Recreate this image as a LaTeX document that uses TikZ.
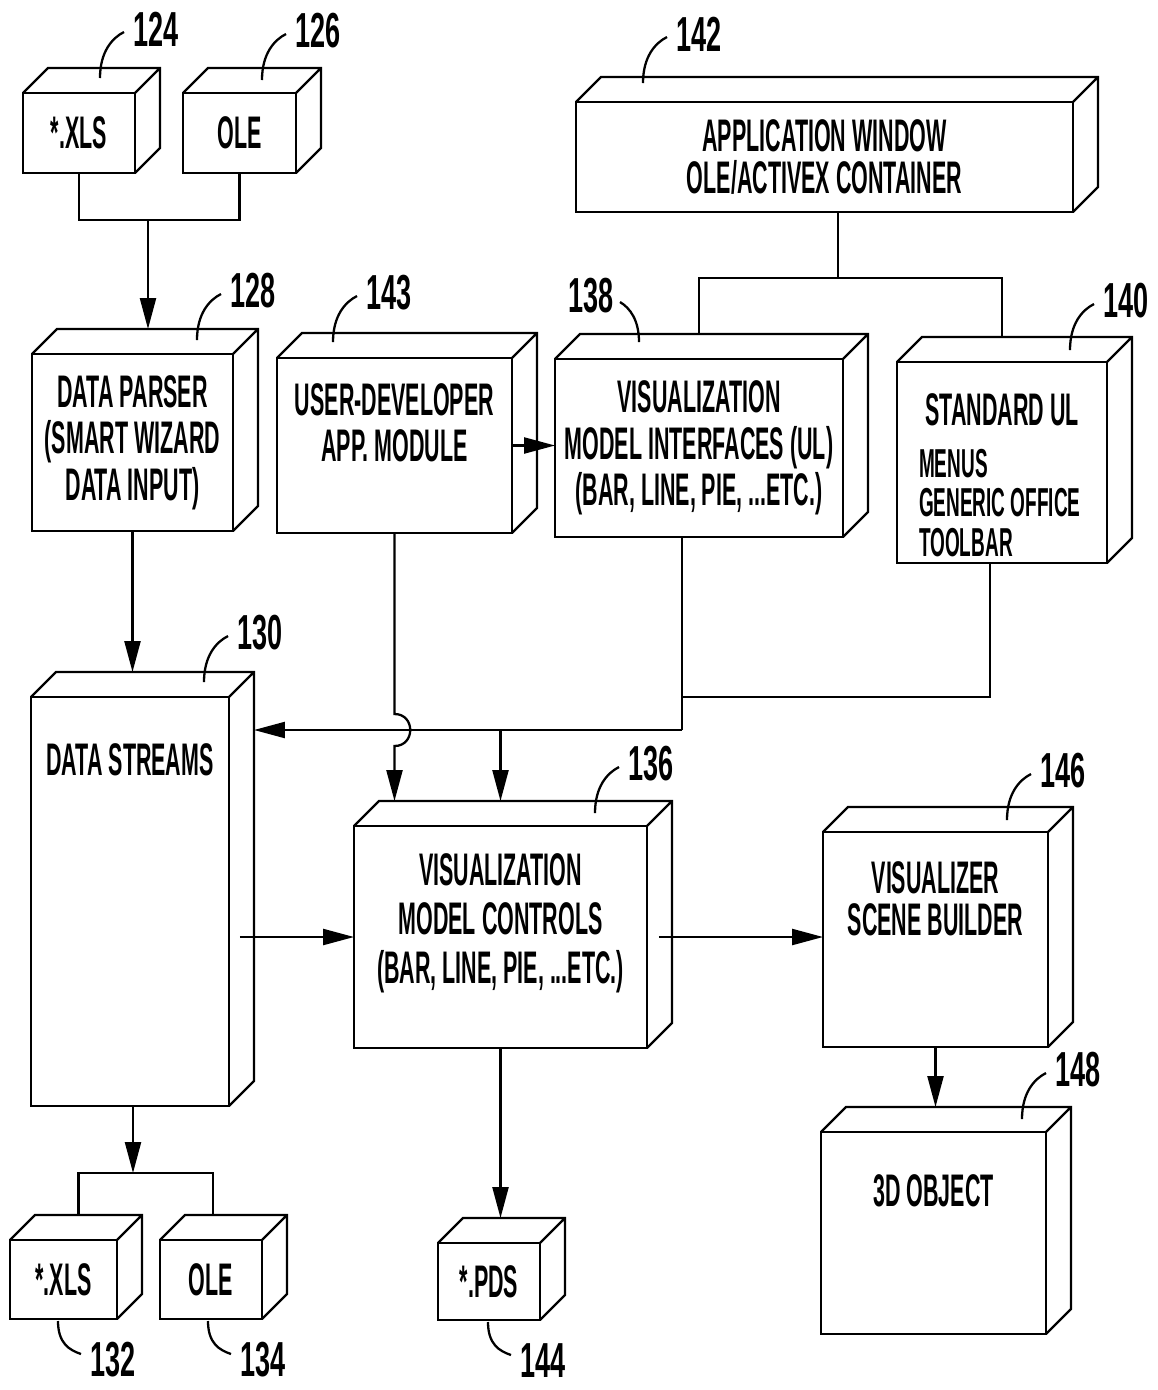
\documentclass[tikz,border=0pt]{standalone}
\usepackage{fontspec}
\usepackage{tikz}
\usetikzlibrary{arrows.meta, positioning, calc}
\newfontfamily\diagfont{Liberation Sans}[FakeStretch=0.47]
\newfontfamily\numfont{Liberation Sans}[FakeStretch=0.55]
\newcommand{\boxtext}{\diagfont\bfseries\fontsize{26}{26.5}\selectfont}
\newcommand{\smalltext}{\diagfont\bfseries\fontsize{23}{22.5}\selectfont}
\newcommand{\numtext}{\numfont\bfseries\fontsize{28}{28}\selectfont}
% top and side faces of a box, plus a point on its back edge
\newcommand{\cubeside}[1]{%
  \draw (#1.north west) -- ++(25,-25) -- ($(#1.north east)+(25,-25)$)
    -- ($(#1.south east)+(25,-25)$) -- (#1.south east)
    (#1.north east) -- ++(25,-25);
  \coordinate (#1-top) at ($(#1.north)+(0,-25)$);}
% reference numbers with their leaders
\newcommand{\refup}[4]{%
  \draw ($(#1.north)+(#2,#3)$) .. controls +(0,-26) and +(-12,6) .. +(24,-46)
    node[refnum, anchor=west, xshift=0.16cm, yshift=0.06cm] {#4};}
\newcommand{\refback}[4]{%
  \draw ($(#1.north)+(#2,#3)$) .. controls +(0,-22) and +(10,6) .. +(-19,-40)
    node[refnum, anchor=east, xshift=-0.1cm, yshift=0.12cm] {#4};}
\newcommand{\refdown}[3]{%
  \draw ($(#1.south)+(#2,2)$) .. controls +(0,22) and +(-12,-4) .. +(23,33)
    node[refnum, anchor=west, xshift=0.16cm, yshift=-0.12cm] {#3};}
\tikzset{
  cube/.style={draw, inner sep=0pt, outer sep=0pt, align=center, font=\boxtext},
  boxlabel/.style={align=center, font=\boxtext, inner sep=0pt},
  refnum/.style={font=\numtext, inner sep=0pt},
  arr/.style={-{Triangle[length=0.62cm, width=0.32cm]}}
}
\begin{document}
\begin{tikzpicture}[x=0.02cm, y=-0.02cm, line width=1.3pt]
  \useasboundingbox (0,0) rectangle (1158,1390);

  % boxes
  \node[cube, minimum width=2.24cm, minimum height=1.6cm] (n124) at (79,133) {*.XLS};
  \node[cube, minimum width=2.26cm, minimum height=1.6cm] (n126) at (239.5,133) {OLE};
  \node[cube, minimum width=9.94cm, minimum height=2.2cm] (n142) at (824.5,157)
    {APPLICATION WINDOW\\[-3pt]OLE/ACTIVEX CONTAINER};
  \node[cube, minimum width=4.02cm, minimum height=3.54cm] (n128) at (132.5,442.5)
    {DATA PARSER\\(SMART WIZARD\\DATA INPUT)};
  \node[cube, minimum width=4.7cm, minimum height=3.5cm] (n143) at (394.5,445.5) {};
  \node[cube, minimum width=5.76cm, minimum height=3.56cm] (n138) at (699,448)
    {VISUALIZATION\\MODEL INTERFACES (UL)\\(BAR, LINE, PIE, ...ETC.)};
  \node[cube, minimum width=4.2cm, minimum height=4.02cm] (n140) at (1002,462.5) {};
  \node[cube, minimum width=3.96cm, minimum height=8.18cm] (n130) at (130,901.5) {};
  \node[cube, minimum width=5.86cm, minimum height=4.44cm] (n136) at (500.5,937) {};
  \node[cube, minimum width=4.5cm, minimum height=4.3cm] (n146) at (935.5,939.5) {};
  \node[cube, minimum width=4.5cm, minimum height=4.04cm] (n148) at (933.5,1233) {};
  \node[cube, minimum width=2.14cm, minimum height=1.58cm] (n132) at (63.5,1279.5) {*.XLS};
  \node[cube, minimum width=2.04cm, minimum height=1.58cm] (n134) at (211,1279.5) {OLE};
  \node[cube, minimum width=2.04cm, minimum height=1.54cm] (n144) at (489,1281.5) {*.PDS};

  \foreach \n in {n124,n126,n142,n128,n143,n138,n140,n130,n136,n146,n148,n132,n134,n144}
    {\cubeside{\n}}

  % texts set high in their boxes
  \node[boxlabel, below=0.48cm of n143.north] (t143) {USER-DEVELOPER\\APP. MODULE};
  \node[boxlabel, below=0.6cm of n140.north] (t140a) {STANDARD UL};
  \node[boxlabel, align=left, anchor=north west, font=\smalltext] (t140b)
    at ([shift={(21,86)}]n140.north west) {MENUS\\GENERIC OFFICE\\TOOLBAR};
  \node[boxlabel, below=0.9cm of n130.north] (t130) {DATA STREAMS};
  \node[boxlabel, below=0.52cm of n136.north] (t136)
    {VISUALIZATION\\[1.5pt]MODEL CONTROLS\\[1.5pt](BAR, LINE, PIE, ...ETC.)};
  \node[boxlabel, below=0.56cm of n146.north] (t146) {VISUALIZER\\[-2.5pt]SCENE BUILDER};
  \node[boxlabel, below=0.82cm of n148.north] (t148) {3D OBJECT};

  % junctions
  \coordinate (j1) at (148,220);
  \coordinate (j2) at (133,1173);
  \coordinate (j3) at (838,278);
  \coordinate (j5) at (682,730);
  \coordinate (j6) at (990,697);
  \coordinate (hump) at (394.5,730);

  % connectors
  \draw (n124.south) |- (j1) -| (n126.south);
  \draw[arr] (j1) -- (j1 |- n128-top);
  \draw[arr] (n128.south) -- (n128.south |- n130-top);
  \draw (j3 |- n142.south) -- (j3);
  \draw (n138-top) |- (j3) -| (n140-top);
  \draw[arr] (n143.east) -- (n143.east -| n138.west);
  \draw (j5 |- n138.south) -- (j5);
  \draw (j6 |- n140.south) -- (j6) -- (j6 -| j5);
  \draw[arr] (j5) -- ([xshift=0.5cm]j5 -| n130.east);
  \draw[arr] (n136-top |- j5) -- (n136-top);
  \draw[arr] (n143.south) -- ([yshift=0.32cm]hump)
    .. controls +(21,0) and +(21,0) .. ([yshift=-0.32cm]hump) -- (hump |- n136-top);
  \draw[arr] ([xshift=0.22cm]n136.west -| n130.east) -- (n136.west);
  \draw[arr] ([xshift=0.24cm]n136.east) -- (n136.east -| n146.west);
  \draw[arr] (n146.south) -- (n146.south |- n148-top);
  \draw[arr] (n136.south) -- (n136.south |- n144-top);
  \draw[arr] (n130.south -| j2) -- (j2);
  \draw ([xshift=0.3cm]n132-top) |- (j2) -| ([xshift=0.04cm]n134-top);

  % reference numbers
  \refup{n124}{21}{-15}{124}
  \refup{n126}{22.5}{-13}{126}
  \refup{n142}{-181.5}{-19}{142}
  \refup{n128}{64.5}{-14}{128}
  \refup{n143}{-61.5}{-16}{143}
  \refback{n138}{-60}{-17}{138}
  \refup{n140}{68}{-12}{140}
  \refup{n130}{74}{-15}{130}
  \refup{n136}{94.5}{-13}{136}
  \refup{n146}{71.5}{-12}{146}
  \refup{n148}{88.5}{-13}{148}
  \refdown{n132}{-5.5}{132}
  \refdown{n134}{-3}{134}
  \refdown{n144}{-1}{144}
\end{tikzpicture}
\end{document}
